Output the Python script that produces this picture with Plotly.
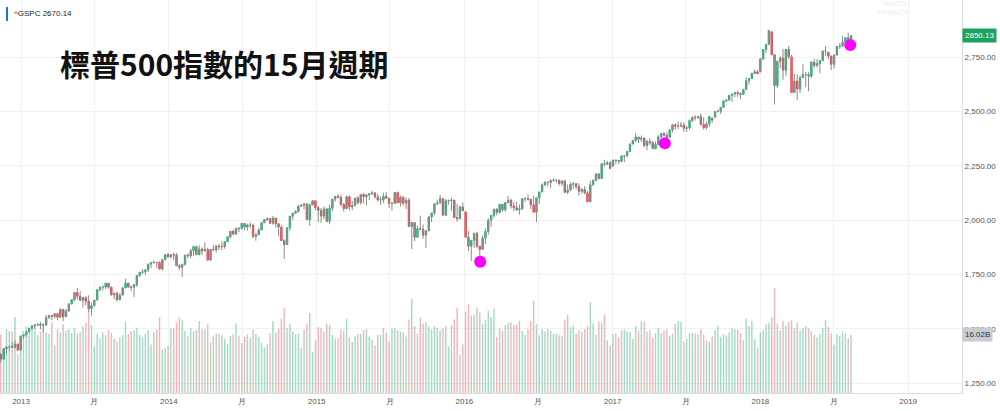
import pandas as pd
import plotly.graph_objects as go

# weekly S&P 500 candles, week starting 2012-11-12 through 2018-08-13
opens = [
    1380, 1360, 1407, 1416, 1418, 1414, 1430,
    1402, 1466, 1472, 1486, 1503, 1513, 1518, 1520, 1516, 1518, 1551, 1561, 1557, 1569, 1553, 1589, 1555, 1582,
    1614, 1634, 1667, 1650, 1631, 1643, 1627, 1592, 1606, 1632, 1680, 1692, 1692, 1710, 1691, 1656, 1664, 1633,
    1655, 1688, 1710, 1692, 1691, 1703, 1745, 1760, 1762, 1771, 1798, 1805, 1806, 1805, 1775, 1818,
    1841, 1831, 1842, 1839, 1790, 1783, 1797, 1839, 1836, 1859, 1878, 1841, 1867, 1858, 1865, 1816, 1865, 1863,
    1881, 1878, 1878, 1901, 1924, 1949, 1936, 1963, 1961, 1985, 1968, 1978, 1978, 1925, 1932, 1955, 1988, 2003,
    2008, 1986, 2010, 1983, 1968, 1906, 1887, 1965, 2018, 2032, 2040, 2064, 2068, 2075, 2002, 2071,
    2089, 2058, 2045, 2019, 2052, 1995, 2055, 2097, 2110, 2105, 2071, 2053, 2108, 2061, 2067, 2102, 2081, 2118,
    2108, 2116, 2123, 2126, 2107, 2093, 2094, 2110, 2101, 2077, 2077, 2127, 2080, 2104, 2078, 2092, 1971, 1989,
    1921, 1961, 1958, 1931, 1951, 2015, 2033, 2075, 2079, 2099, 2023, 2089, 2090, 2092, 2012, 2006, 2061,
    2038, 1922, 1880, 1907, 1940, 1880, 1865, 1918, 1948, 2000, 2022, 2050, 2036, 2073, 2048, 2081, 2092, 2065,
    2057, 2047, 2052, 2099, 2099, 2096, 2071, 2037, 2103, 2130, 2162, 2175, 2174, 2183, 2184, 2184, 2169, 2180,
    2128, 2139, 2165, 2168, 2154, 2133, 2141, 2126, 2085, 2164, 2182, 2213, 2192, 2260, 2258, 2264,
    2251, 2277, 2275, 2271, 2295, 2297, 2316, 2351, 2367, 2383, 2373, 2378, 2344, 2363, 2356, 2329, 2349, 2384,
    2399, 2391, 2382, 2416, 2439, 2432, 2433, 2438, 2423, 2425, 2459, 2473, 2472, 2477, 2441, 2426, 2443, 2470,
    2474, 2500, 2502, 2519, 2549, 2553, 2575, 2581, 2588, 2582, 2579, 2602, 2642, 2652, 2676, 2683,
    2683, 2743, 2786, 2810, 2867, 2762, 2620, 2732, 2747, 2691, 2787, 2752, 2588, 2641, 2604, 2656, 2670, 2670,
    2663, 2728, 2713, 2721, 2735, 2779, 2773, 2755, 2718, 2760, 2801, 2802, 2819, 2840, 2833,
]
highs = [
    1388, 1409, 1420, 1423, 1439, 1448, 1430,
    1469, 1473, 1486, 1503, 1514, 1518, 1525, 1531, 1525, 1564, 1564, 1564, 1570, 1573, 1594, 1589, 1592, 1618,
    1636, 1668, 1687, 1674, 1646, 1649, 1654, 1620, 1632, 1680, 1694, 1698, 1710, 1710, 1694, 1664, 1670, 1664,
    1691, 1730, 1711, 1700, 1707, 1745, 1760, 1775, 1775, 1798, 1805, 1813, 1806, 1811, 1823, 1844,
    1850, 1843, 1850, 1849, 1799, 1798, 1840, 1847, 1867, 1883, 1882, 1884, 1875, 1897, 1873, 1865, 1885, 1885,
    1891, 1902, 1902, 1924, 1950, 1956, 1964, 1968, 1986, 1986, 1984, 1991, 1984, 1942, 1964, 1993, 2006, 2012,
    2008, 2019, 2010, 1985, 1977, 1912, 1965, 2018, 2034, 2046, 2071, 2075, 2079, 2076, 2077, 2093,
    2093, 2064, 2056, 2064, 2058, 2072, 2097, 2111, 2120, 2118, 2080, 2114, 2115, 2089, 2103, 2112, 2120, 2126,
    2121, 2124, 2135, 2126, 2121, 2109, 2126, 2130, 2101, 2085, 2129, 2132, 2114, 2112, 2105, 2103, 1993, 1989,
    1976, 2021, 1980, 1952, 2020, 2034, 2079, 2094, 2116, 2099, 2097, 2095, 2104, 2093, 2076, 2068, 2081,
    2038, 1950, 1908, 1940, 1947, 1882, 1930, 1963, 2009, 2022, 2053, 2056, 2073, 2073, 2084, 2111, 2099, 2084,
    2085, 2072, 2100, 2106, 2120, 2096, 2113, 2103, 2131, 2169, 2178, 2177, 2188, 2194, 2188, 2188, 2184, 2187,
    2164, 2175, 2175, 2169, 2170, 2148, 2157, 2134, 2182, 2189, 2214, 2214, 2260, 2278, 2274, 2273,
    2277, 2279, 2276, 2301, 2300, 2320, 2352, 2368, 2401, 2383, 2390, 2382, 2371, 2378, 2366, 2363, 2392, 2400,
    2405, 2405, 2418, 2440, 2446, 2454, 2453, 2451, 2435, 2464, 2478, 2484, 2480, 2490, 2474, 2454, 2480, 2472,
    2500, 2509, 2520, 2552, 2558, 2575, 2583, 2588, 2597, 2590, 2605, 2658, 2655, 2679, 2695, 2693,
    2744, 2787, 2811, 2873, 2870, 2763, 2734, 2754, 2789, 2787, 2802, 2761, 2675, 2673, 2666, 2718, 2683, 2682,
    2732, 2743, 2742, 2736, 2779, 2801, 2775, 2758, 2764, 2802, 2816, 2848, 2841, 2863, 2851,
]
lows = [
    1343, 1358, 1385, 1398, 1411, 1410, 1398,
    1398, 1451, 1463, 1481, 1495, 1495, 1510, 1497, 1485, 1512, 1546, 1539, 1547, 1539, 1548, 1536, 1554, 1577,
    1613, 1626, 1635, 1629, 1598, 1608, 1577, 1560, 1604, 1632, 1672, 1676, 1682, 1684, 1653, 1636, 1628, 1633,
    1655, 1688, 1687, 1674, 1646, 1692, 1739, 1752, 1746, 1761, 1780, 1800, 1779, 1772, 1768, 1818,
    1828, 1823, 1815, 1790, 1770, 1738, 1791, 1825, 1825, 1834, 1839, 1839, 1839, 1858, 1814, 1816, 1857, 1851,
    1862, 1862, 1868, 1901, 1915, 1930, 1933, 1944, 1958, 1953, 1952, 1963, 1916, 1905, 1932, 1955, 1988, 1995,
    1983, 1979, 1965, 1926, 1906, 1821, 1886, 1951, 2001, 2031, 2034, 2062, 2049, 2002, 1973, 2069,
    2046, 1992, 1988, 2005, 1989, 1981, 2041, 2085, 2103, 2067, 2039, 2050, 2045, 2046, 2064, 2073, 2073, 2077,
    2068, 2092, 2116, 2100, 2086, 2072, 2080, 2098, 2056, 2044, 2077, 2079, 2063, 2067, 2052, 1971, 1867, 1904,
    1921, 1953, 1914, 1872, 1951, 1991, 2022, 2069, 2076, 2022, 2020, 2071, 2042, 2012, 1993, 2005, 2043,
    1918, 1858, 1812, 1872, 1872, 1810, 1865, 1891, 1932, 1969, 2010, 2022, 2030, 2039, 2039, 2078, 2053, 2040,
    2044, 2025, 2048, 2085, 2091, 2051, 2033, 1992, 2075, 2130, 2159, 2156, 2148, 2176, 2172, 2160, 2157, 2128,
    2120, 2133, 2145, 2142, 2115, 2123, 2119, 2084, 2084, 2156, 2182, 2187, 2192, 2248, 2253, 2234,
    2245, 2258, 2258, 2266, 2267, 2288, 2315, 2348, 2359, 2355, 2360, 2335, 2322, 2345, 2328, 2328, 2349, 2377,
    2387, 2353, 2381, 2404, 2416, 2419, 2430, 2406, 2407, 2416, 2452, 2459, 2467, 2437, 2417, 2418, 2429, 2447,
    2474, 2496, 2489, 2520, 2543, 2551, 2545, 2566, 2566, 2557, 2576, 2600, 2625, 2652, 2676, 2673,
    2683, 2737, 2769, 2808, 2759, 2533, 2608, 2700, 2647, 2665, 2742, 2586, 2585, 2553, 2586, 2656, 2612, 2594,
    2654, 2701, 2703, 2676, 2735, 2756, 2742, 2691, 2698, 2760, 2789, 2799, 2794, 2825, 2802,
]
closes = [
    1360, 1409, 1416, 1418, 1414, 1430, 1402,
    1466, 1472, 1486, 1503, 1513, 1518, 1520, 1516, 1518, 1551, 1561, 1557, 1569, 1553, 1589, 1555, 1582, 1614,
    1634, 1667, 1650, 1631, 1643, 1627, 1592, 1606, 1632, 1680, 1692, 1692, 1710, 1691, 1656, 1664, 1633, 1655,
    1688, 1710, 1692, 1691, 1703, 1745, 1760, 1762, 1771, 1798, 1805, 1806, 1805, 1775, 1818, 1841,
    1831, 1842, 1839, 1790, 1783, 1797, 1839, 1836, 1859, 1878, 1841, 1867, 1858, 1865, 1816, 1865, 1863, 1881,
    1878, 1878, 1901, 1924, 1949, 1936, 1963, 1961, 1985, 1968, 1978, 1978, 1925, 1932, 1955, 1988, 2003, 2008,
    1986, 2010, 1983, 1968, 1906, 1887, 1965, 2018, 2032, 2040, 2064, 2068, 2075, 2002, 2071, 2089,
    2058, 2045, 2019, 2052, 1995, 2055, 2097, 2110, 2105, 2071, 2053, 2108, 2061, 2067, 2102, 2081, 2118, 2108,
    2116, 2123, 2126, 2107, 2093, 2094, 2110, 2101, 2077, 2077, 2127, 2080, 2104, 2078, 2092, 1971, 1989, 1921,
    1961, 1958, 1931, 1951, 2015, 2033, 2075, 2079, 2099, 2023, 2089, 2090, 2092, 2012, 2006, 2061, 2044,
    1922, 1880, 1907, 1940, 1880, 1865, 1918, 1948, 2000, 2022, 2050, 2036, 2073, 2048, 2081, 2092, 2065, 2057,
    2047, 2052, 2099, 2099, 2096, 2071, 2037, 2103, 2130, 2162, 2175, 2174, 2183, 2184, 2184, 2169, 2180, 2128,
    2139, 2165, 2168, 2154, 2133, 2141, 2126, 2085, 2164, 2182, 2213, 2192, 2260, 2258, 2264, 2239,
    2277, 2275, 2271, 2295, 2297, 2316, 2351, 2367, 2383, 2373, 2378, 2344, 2363, 2356, 2329, 2349, 2384, 2399,
    2391, 2382, 2416, 2439, 2432, 2433, 2438, 2423, 2425, 2459, 2473, 2472, 2477, 2441, 2426, 2443, 2477, 2461,
    2500, 2502, 2519, 2549, 2553, 2575, 2581, 2588, 2582, 2579, 2602, 2642, 2652, 2676, 2683, 2674,
    2743, 2786, 2810, 2873, 2762, 2620, 2732, 2747, 2691, 2787, 2752, 2588, 2641, 2604, 2656, 2670, 2670, 2663,
    2728, 2713, 2721, 2735, 2779, 2779, 2755, 2718, 2760, 2801, 2802, 2819, 2840, 2833, 2850.13,
]
# weekly volume, billions of shares
volumes = [
    16.2, 11.9, 17.6, 17.1, 17.0, 21.0, 10.8,
    14.0, 17.2, 18.3, 17.4, 18.6, 17.1, 16.0, 17.0, 18.2, 16.8, 16.3, 19.5, 13.2, 17.6, 16.7, 19.0, 17.2, 17.6,
    16.5, 18.0, 16.4, 16.9, 18.4, 19.3, 22.6, 18.8, 12.9, 16.2, 15.1, 16.8, 16.0, 17.4, 16.6, 15.0, 14.2, 15.3,
    16.1, 19.6, 16.3, 17.1, 17.3, 17.9, 16.0, 15.4, 16.4, 17.3, 13.4, 16.8, 17.5, 20.9, 12.0, 12.4,
    13.0, 17.8, 17.9, 19.5, 20.8, 20.2, 17.2, 15.8, 17.9, 17.0, 17.5, 19.9, 17.6, 17.5, 19.0, 14.0, 15.8, 16.4,
    16.2, 15.9, 15.0, 13.6, 15.8, 16.2, 19.2, 15.9, 13.8, 15.6, 16.1, 15.2, 17.5, 16.3, 15.6, 13.8, 12.6, 13.3,
    16.4, 19.9, 16.8, 17.8, 20.5, 23.4, 17.9, 19.0, 17.0, 16.2, 16.4, 12.4, 17.5, 19.0, 22.1, 11.3,
    14.5, 18.2, 17.9, 17.0, 19.1, 18.7, 16.1, 15.0, 15.2, 17.6, 17.2, 20.5, 15.4, 14.1, 15.7, 16.3, 16.3, 17.3,
    17.6, 15.6, 14.8, 13.2, 16.1, 16.0, 17.9, 16.7, 14.2, 17.8, 17.9, 17.3, 17.0, 16.8, 15.6, 20.3, 26.0, 18.5,
    16.4, 20.8, 19.2, 19.6, 18.3, 17.6, 18.4, 18.0, 17.3, 17.8, 18.5, 12.9, 18.8, 20.3, 23.5, 10.6, 13.4,
    22.5, 24.5, 21.4, 21.6, 23.6, 22.3, 18.9, 20.3, 22.8, 21.0, 23.4, 15.5, 17.9, 17.1, 18.8, 19.4, 19.5, 18.8,
    18.9, 19.9, 17.1, 16.0, 17.6, 19.9, 25.5, 19.0, 15.9, 17.7, 17.0, 17.7, 17.3, 16.3, 16.4, 15.9, 15.8, 20.2,
    21.6, 18.1, 18.6, 16.4, 17.3, 16.9, 17.7, 18.4, 25.1, 19.2, 16.1, 19.8, 19.5, 21.7, 14.5, 13.1,
    16.3, 16.5, 15.3, 17.3, 17.6, 17.0, 16.9, 14.9, 18.5, 17.1, 19.8, 19.7, 17.0, 17.4, 15.3, 16.6, 17.9, 16.5,
    17.2, 17.6, 15.8, 16.4, 19.1, 19.9, 19.6, 14.2, 14.9, 16.4, 16.6, 16.5, 16.2, 17.7, 16.1, 14.5, 14.2, 15.6,
    17.3, 18.6, 15.5, 16.2, 15.9, 16.8, 17.9, 17.6, 17.5, 16.6, 14.5, 20.5, 18.5, 19.8, 14.8, 12.5,
    16.8, 17.4, 18.9, 19.4, 21.0, 29.0, 19.2, 17.3, 19.9, 18.6, 19.6, 20.2, 17.9, 19.4, 17.2, 17.9, 18.5, 17.9,
    17.0, 16.0, 15.3, 16.3, 18.0, 20.1, 18.2, 16.4, 13.3, 16.2, 15.8, 17.0, 16.4, 15.1, 16.02,
]
for arr in (highs, lows, closes, volumes):
    assert len(arr) == len(opens)

dates = pd.date_range("2012-11-12", periods=len(opens), freq="7D")

# 15-month cycle markers
cycle_dates = ["2016-02-09", "2017-05-10", "2018-08-11"]
cycle_values = [1809, 2354, 2807]

price_ticks = [1250, 1500, 1750, 2000, 2250, 2500, 2750]
price_labels = ["1,250.00", "1,500.00", "1,750.00", "2,000.00", "2,250.00", "2,500.00", "2,750.00"]
x_ticks = ["2013-01-01", "2013-07-01", "2014-01-01", "2014-07-01", "2015-01-01", "2015-07-01",
           "2016-01-01", "2016-07-01", "2017-01-01", "2017-07-01", "2018-01-01", "2018-07-01", "2019-01-01"]
x_labels = ["2013", "月", "2014", "月", "2015", "月", "2016", "月", "2017", "月", "2018", "月", "2019"]

UP = "#32ad76"
DOWN = "#e3464c"

vol_colors = ["rgba(50,173,118,0.45)" if c >= o else "rgba(227,70,76,0.4)" for o, c in zip(opens, closes)]
body_hi = [max(o, c) for o, c in zip(opens, closes)]
body_lo = [min(o, c) for o, c in zip(opens, closes)]

wick_x, wick_y = [], []
for d, lo, hi in zip(dates, lows, highs):
    wick_x += [d, d, None]
    wick_y += [lo, hi, None]

fig = go.Figure()

fig.add_trace(go.Bar(x=dates, y=volumes, marker=dict(color=vol_colors, line=dict(width=0)),
                     yaxis="y", hoverinfo="skip", showlegend=False))

fig.add_trace(go.Scatter(x=wick_x, y=wick_y, mode="lines", line=dict(color="#8c8c8c", width=1),
                         yaxis="y2", hoverinfo="skip", showlegend=False))

fig.add_trace(go.Candlestick(
    x=dates, open=opens, high=body_hi, low=body_lo, close=closes, yaxis="y2",
    increasing=dict(line=dict(color=UP, width=1), fillcolor=UP),
    decreasing=dict(line=dict(color=DOWN, width=1), fillcolor=DOWN),
    whiskerwidth=0, showlegend=False,
))

fig.add_trace(go.Scatter(x=cycle_dates, y=cycle_values, mode="markers", yaxis="y2",
                         marker=dict(color="#ff00ff", size=12), showlegend=False))

axis_font = dict(family="Liberation Sans, Arial", size=8, color="#555")

fig.update_layout(
    width=1000, height=411,
    margin=dict(l=0, r=38, t=0, b=18),
    paper_bgcolor="white", plot_bgcolor="white",
    bargap=0.5,
    xaxis=dict(
        type="date", range=["2012-11-10", "2019-05-14"],
        tickvals=x_ticks, ticktext=x_labels, tickfont=axis_font,
        showgrid=True, gridcolor="#f1f1f1", gridwidth=1,
        showline=True, linecolor="#dcdcdc", linewidth=1,
        ticks="", rangeslider=dict(visible=False), zeroline=False,
    ),
    yaxis=dict(range=[0, 108.5], visible=False, showgrid=False, fixedrange=True),
    yaxis2=dict(
        overlaying="y", side="right", range=[1204, 3014],
        tickvals=price_ticks, ticktext=price_labels, tickfont=axis_font,
        showgrid=True, gridcolor="#f1f1f1", gridwidth=1,
        showline=True, linecolor="#dcdcdc", linewidth=1, ticks="", zeroline=False,
    ),
    font=dict(family="Liberation Sans, Arial"),
)

fig.add_shape(type="rect", xref="paper", yref="paper",
              x0=6 / 962, x1=8 / 962, y0=1 - 21 / 393, y1=1 - 7 / 393,
              fillcolor="#1a73e8", line=dict(width=0))

fig.add_annotation(xref="paper", yref="paper", x=12 / 962, y=1 - 14 / 393,
                   xanchor="left", yanchor="middle", showarrow=False,
                   text="^GSPC 2670.14", font=dict(family="Liberation Sans, Arial", size=8, color="#222"))

fig.add_annotation(xref="paper", yref="paper", x=893 / 962, y=1 - 8 / 393,
                   xanchor="center", yanchor="middle", showarrow=False,
                   text="YAHOO!<br>FINANCE", font=dict(family="Liberation Sans, Arial", size=7, color="#ececec"))

fig.add_annotation(xref="paper", yref="paper", x=58 / 962, y=1 - 63 / 393,
                   xanchor="left", yanchor="middle", showarrow=False,
                   text="<b>標普500指數的15月週期</b>",
                   font=dict(family="Noto Sans CJK TC", size=30, color="#111", weight=900))

fig.add_annotation(xref="paper", yref="y2", x=1.0, y=2850.13, xanchor="left", yanchor="middle",
                   showarrow=False, text="2850.13", bgcolor="#1aa260", borderpad=2,
                   font=dict(family="Liberation Sans, Arial", size=8, color="white"))

fig.add_annotation(xref="paper", yref="y", x=1.0, y=16.02, xanchor="left", yanchor="middle",
                   showarrow=False, text="16.02B", bgcolor="#c6cbd4", borderpad=2,
                   font=dict(family="Liberation Sans, Arial", size=8, color="#333"))

# the page body has a default 8px margin; drop it so the chart sits at the window's corner
fig.write_html("out.html", config={"displayModeBar": False},
               post_script="document.body.style.margin='0';")
